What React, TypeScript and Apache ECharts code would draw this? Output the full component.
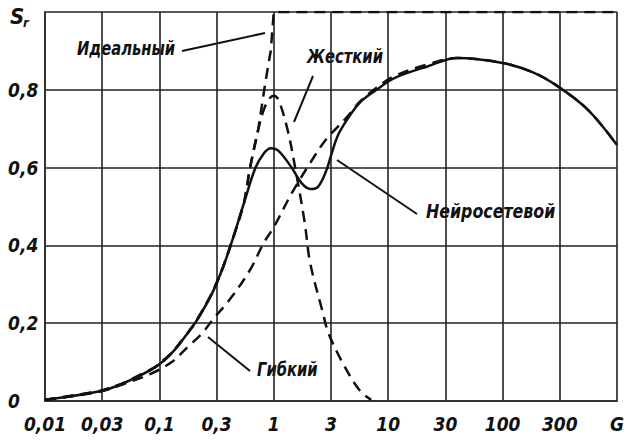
import React, { useEffect, useRef } from "react";
import * as echarts from "echarts";

const xTickLabels = ["0,01", "0,03", "0,1", "0,3", "1", "3", "10", "30", "100", "300", "G"];
const yTickLabels = ["0", "0,2", "0,4", "0,6", "0,8", ""];

const neuroG = [0.01, 0.03, 0.048, 0.092, 0.128, 0.177, 0.213, 0.29, 0.36, 0.435, 0.55, 0.69, 0.82, 0.94, 1.1, 1.44, 1.75, 2.08, 2.4, 2.69, 2.94, 3.12, 3.6, 4.3, 5.6, 7.9, 11.3, 22, 40, 100, 180, 300, 560, 1000];
const neuroS = [0.003, 0.025, 0.045, 0.087, 0.123, 0.175, 0.208, 0.278, 0.344, 0.414, 0.51, 0.599, 0.637, 0.65, 0.643, 0.599, 0.56, 0.545, 0.549, 0.572, 0.6, 0.625, 0.68, 0.72, 0.766, 0.8, 0.83, 0.86, 0.882, 0.869, 0.846, 0.81, 0.748, 0.658];

const flexG = [0.01, 0.03, 0.05, 0.087, 0.128, 0.177, 0.238, 0.29, 0.41, 0.62, 0.815, 1.0, 1.44, 2.08, 2.84, 4.3, 5.6, 7.9, 11.3, 22, 40, 100, 180, 300, 560, 1000];
const flexS = [0.003, 0.024, 0.045, 0.072, 0.1, 0.139, 0.175, 0.208, 0.26, 0.337, 0.406, 0.447, 0.535, 0.612, 0.671, 0.728, 0.768, 0.805, 0.835, 0.865, 0.882, 0.869, 0.846, 0.81, 0.748, 0.658];

const rigidG = [0.01, 0.03, 0.048, 0.092, 0.128, 0.177, 0.213, 0.29, 0.36, 0.435, 0.55, 0.62, 0.73, 0.82, 0.92, 1.0, 1.1, 1.32, 1.55, 1.86, 2.08, 2.69, 3.0, 4.0, 5.6, 7.1];
const rigidS = [0.003, 0.025, 0.045, 0.087, 0.123, 0.175, 0.208, 0.278, 0.344, 0.414, 0.51, 0.6, 0.697, 0.75, 0.778, 0.785, 0.774, 0.697, 0.594, 0.46, 0.355, 0.226, 0.175, 0.098, 0.028, 0.003];

const idealG = [0.01, 0.03, 0.048, 0.092, 0.128, 0.177, 0.213, 0.29, 0.36, 0.435, 0.55, 0.62, 0.73, 0.845, 0.94, 1.0, 1000];
const idealS = [0.003, 0.025, 0.045, 0.087, 0.123, 0.175, 0.208, 0.278, 0.344, 0.414, 0.51, 0.6, 0.697, 0.82, 0.9, 1.0, 1.0];

const FONT = "'DejaVu Sans Condensed', 'DejaVu Sans', sans-serif";
const INK = "#111";

function pairs(xs: number[], ys: number[]) {
  return xs.map((x, i) => [x, ys[i]]);
}

export default function App() {
  const ref = useRef<HTMLDivElement>(null);
  useEffect(() => {
    if (!ref.current) return;
    const chart = echarts.init(ref.current, undefined, { renderer: "svg" });
    const labelStyle = {
      fontFamily: FONT,
      fontWeight: "bold" as const,
      fontStyle: "italic" as const,
      fontSize: 19,
      color: INK,
    };
    const dashed = { color: INK, width: 2.5, type: [11, 7] as any };
    const txt = (text: string, x: number, y: number, size = 20, sx = 0.82) => ({
      type: "text",
      x,
      y,
      scaleX: sx,
      style: {
        text,
        fill: INK,
        fontFamily: FONT,
        fontWeight: "bold",
        fontStyle: "italic",
        fontSize: size,
        align: "left",
        verticalAlign: "middle",
      },
    });
    const ln = (x1: number, y1: number, x2: number, y2: number) => ({
      type: "line",
      shape: { x1, y1, x2, y2 },
      style: { stroke: INK, lineWidth: 2 },
    });
    const smoothLine = (name: string, xs: number[], ys: number[], lineStyle: any, z: number) => ({
      name,
      type: "line",
      data: pairs(xs, ys),
      showSymbol: false,
      smooth: 0.35,
      lineStyle,
      z,
    });
    chart.setOption({
      animation: false,
      backgroundColor: "#fff",
      grid: { left: 45, right: 5, top: 12, bottom: 39 },
      xAxis: {
        type: "log",
        min: 0.01,
        max: 1000,
        interval: 0.5,
        axisLine: { show: true, lineStyle: { color: "#333", width: 2 } },
        axisTick: { show: false },
        splitLine: { show: true, lineStyle: { color: "#222", width: 1.6 } },
        axisLabel: {
          ...labelStyle,
          margin: 13,
          formatter: (v: number) => {
            const idx = Math.round((Math.log10(v) + 2) * 2);
            return xTickLabels[idx] ?? "";
          },
        },
      },
      yAxis: {
        type: "value",
        min: 0,
        max: 1,
        interval: 0.2,
        axisLine: { show: true, lineStyle: { color: "#333", width: 2 } },
        axisTick: { show: false },
        splitLine: { show: true, lineStyle: { color: "#222", width: 1.6 } },
        axisLabel: {
          ...labelStyle,
          align: "left",
          margin: 37,
          formatter: (v: number) => yTickLabels[Math.round(v * 5)] ?? "",
        },
      },
      series: [
        {
          name: "Идеальный",
          type: "line",
          data: pairs(idealG, idealS),
          showSymbol: false,
          smooth: false,
          lineStyle: dashed,
          z: 3,
        },
        smoothLine("Жесткий", rigidG, rigidS, dashed, 3),
        smoothLine("Гибкий", flexG, flexS, dashed, 3),
        smoothLine("Нейросетевой", neuroG, neuroS, { color: INK, width: 2.5 }, 4),
      ],
      graphic: [
        txt("S", 10, 16, 22, 1),
        txt("r", 23, 22, 13, 1),
        txt("Идеальный", 77, 48),
        ln(182, 51, 265, 33),
        txt("Жесткий", 307, 56),
        ln(313, 76, 294, 122),
        txt("Нейросетевой", 426, 211, 20, 0.88),
        ln(337, 160, 417, 214),
        txt("Гибкий", 257, 369),
        ln(208, 337, 250, 371),
      ],
    });
    return () => chart.dispose();
  }, []);
  return (
    <div
      ref={ref}
      style={{ position: "fixed", left: 0, top: 0, width: 627, height: 440, background: "#fff" }}
    />
  );
}
